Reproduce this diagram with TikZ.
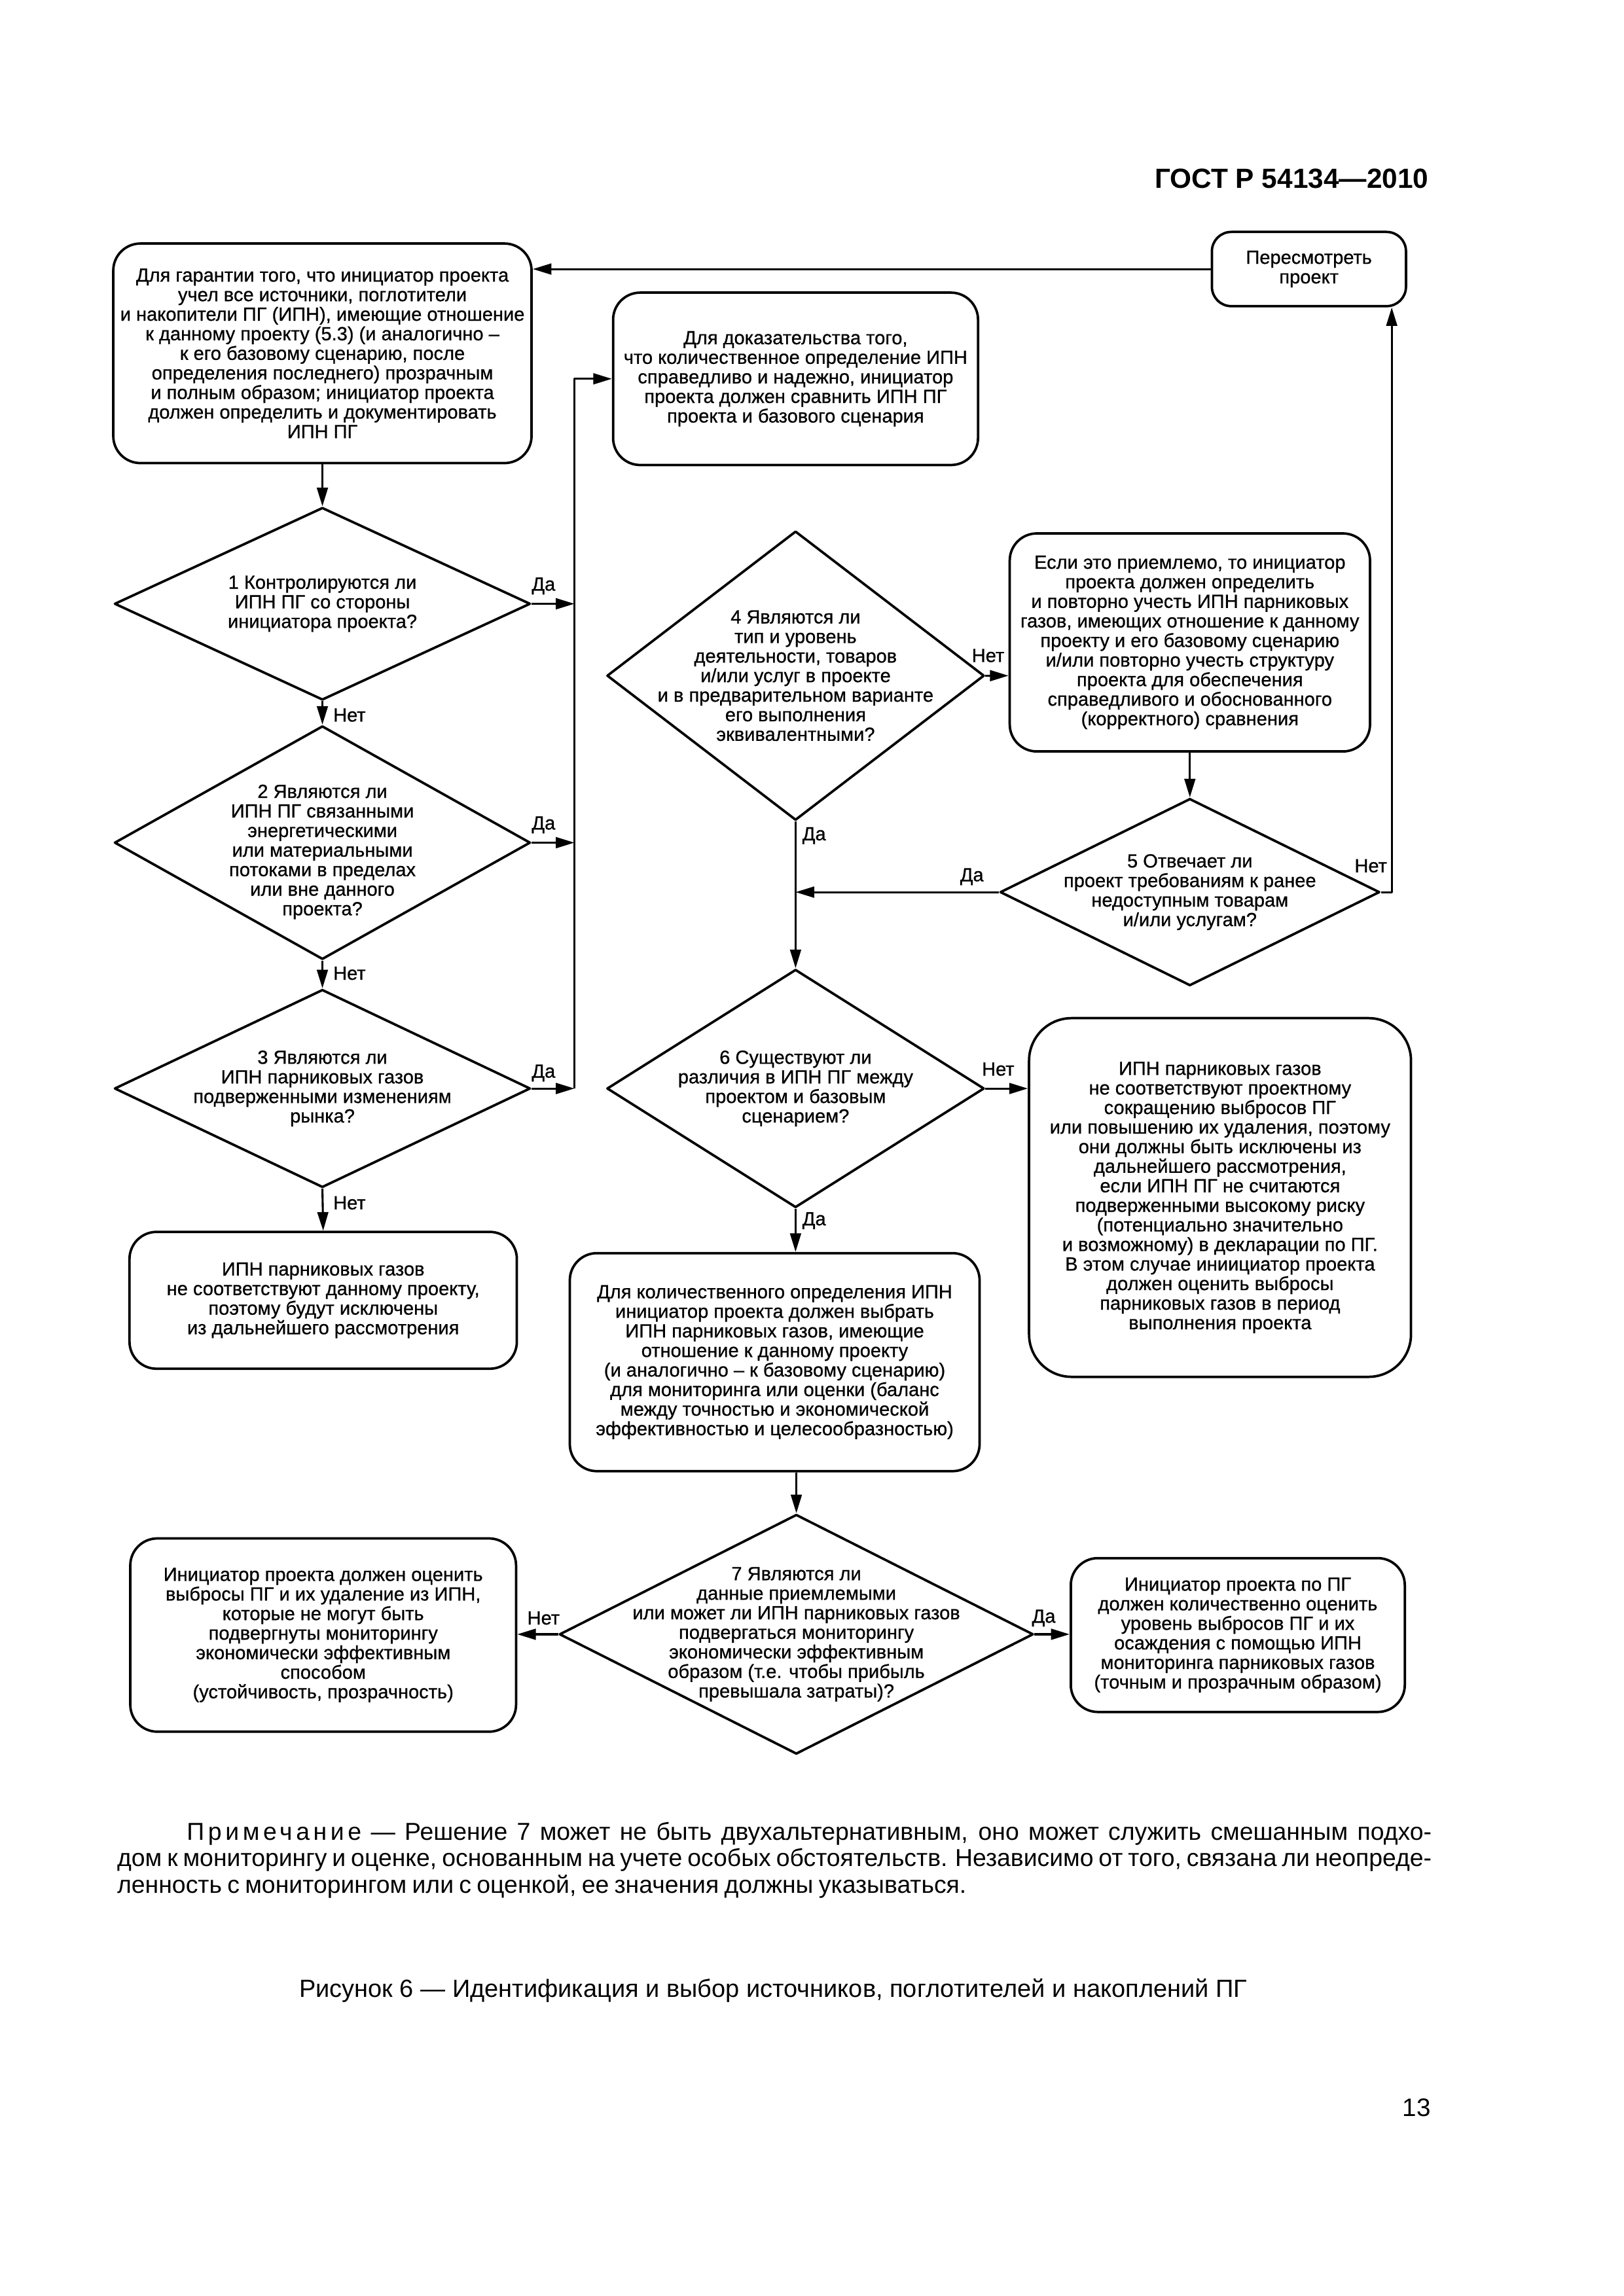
\documentclass[tikz,border=0pt]{standalone}
\usepackage{fontspec}
\setmainfont{Liberation Sans}
\newfontfamily\notefont{Liberation Sans}[WordSpace={0.8,1,1.5}]
\newfontfamily\diafont{Liberation Sans}[FakeBold=0.8]
\usetikzlibrary{arrows.meta,shapes.geometric}

\begin{document}
\begin{tikzpicture}[x=1mm, y=-1mm, line join=round, >={Triangle[length=2.4mm,width=1.4mm]},
  font=\diafont\fontsize{7}{7.2}\selectfont,
  box/.style={draw, line width=0.9pt, rounded corners=3.5mm, align=center, inner sep=0pt},
  dia/.style={draw, diamond, line width=0.9pt, inner sep=0pt},
  link/.style={line width=0.75pt}]
\useasboundingbox (0,0) rectangle (210,297);
\fill[white] (0,0) rectangle (210,297);

\node[anchor=east, font=\rmfamily\bfseries\fontsize{10.2}{12}\selectfont] (gost) at (186,23.1) {ГОСТ Р 54134—2010};

% left column
\node[box, minimum width=54.1mm, minimum height=28.4mm] (gar) at (41.7,45.7) {Для гарантии того, что инициатор проекта\\ учел все источники, поглотители\\ и накопители ПГ (ИПН), имеющие отношение\\ к данному проекту (5.3) (и аналогично –\\ к его базовому сценарию, после\\ определения последнего) прозрачным\\ и полным образом; инициатор проекта\\ должен определить и документировать\\ ИПН ПГ};
\node[dia, minimum width=53.8mm, minimum height=24.9mm] (q1) at (41.7,78.1) {};
\node[align=center] (q1t) at (q1) {1 Контролируются ли\\ ИПН ПГ со стороны\\ инициатора проекта?};
\node[dia, minimum width=53.8mm, minimum height=30.2mm] (q2) at (41.7,109.0) {};
\node[align=center] (q2t) at (41.7,110.2) {2 Являются ли\\ ИПН ПГ связанными\\ энергетическими\\ или материальными\\ потоками в пределах\\ или вне данного\\ проекта?};
\node[dia, minimum width=53.8mm, minimum height=25.6mm] (q3) at (41.7,140.8) {};
\node[align=center] (q3t) at (q3) {3 Являются ли\\ ИПН парниковых газов\\ подверженными изменениям\\ рынка?};
\node[box, minimum width=50.1mm, minimum height=17.7mm] (excl) at (41.8,168.2) {ИПН парниковых газов\\ не соответствуют данному проекту,\\ поэтому будут исключены\\ из дальнейшего рассмотрения};

% middle column
\node[box, minimum width=47.2mm, minimum height=22.3mm] (cmp) at (102.9,49.0) {Для доказательства того,\\ что количественное определение ИПН\\ справедливо и надежно, инициатор\\ проекта должен сравнить ИПН ПГ\\ проекта и базового сценария};
\node[dia, minimum width=48.8mm, minimum height=37.4mm] (q4) at (102.9,87.4) {};
\node[align=center] (q4t) at (q4) {4 Являются ли\\ тип и уровень\\ деятельности, товаров\\ и/или услуг в проекте\\ и в предварительном варианте\\ его выполнения\\ эквивалентными?};
\node[dia, minimum width=48.8mm, minimum height=30.8mm] (q6) at (102.9,140.8) {};
\node[align=center] (q6t) at (q6) {6 Существуют ли\\ различия в ИПН ПГ между\\ проектом и базовым\\ сценарием?};
\node[box, minimum width=53.0mm, minimum height=28.2mm] (mon) at (100.2,176.2) {Для количественного определения ИПН\\ инициатор проекта должен выбрать\\ ИПН парниковых газов, имеющие\\ отношение к данному проекту\\ (и аналогично – к базовому сценарию)\\ для мониторинга или оценки (баланс\\ между точностью и экономической\\ эффективностью и целесообразностью)};
\node[dia, minimum width=61.3mm, minimum height=31.0mm] (q7) at (103.0,211.4) {};
\node[align=center] (q7t) at (q7) {7 Являются ли\\ данные приемлемыми\\ или может ли ИПН парниковых газов\\ подвергаться мониторингу\\ экономически эффективным\\ образом (т.е. чтобы прибыль\\ превышала затраты)?};
\node[box, minimum width=49.9mm, minimum height=25.0mm] (est) at (41.8,211.5) {Инициатор проекта должен оценить\\ выбросы ПГ и их удаление из ИПН,\\ которые не могут быть\\ подвергнуты мониторингу\\ экономически эффективным\\ способом\\ (устойчивость, прозрачность)};

% right column
\node[box, rounded corners=2.5mm, minimum width=25.1mm, minimum height=9.6mm] (rev) at (169.3,34.8) {Пересмотреть\\ проект};
\node[box, minimum width=46.6mm, minimum height=28.2mm] (redo) at (153.9,83.1) {Если это приемлемо, то инициатор\\ проекта должен определить\\ и повторно учесть ИПН парниковых\\ газов, имеющих отношение к данному\\ проекту и его базовому сценарию\\ и/или повторно учесть структуру\\ проекта для обеспечения\\ справедливого и обоснованного\\ (корректного) сравнения};
\node[dia, minimum width=49.1mm, minimum height=24.2mm] (q5) at (153.9,115.4) {};
\node[align=center] (q5t) at (q5) {5 Отвечает ли\\ проект требованиям к ранее\\ недоступным товарам\\ и/или услугам?};
\node[box, rounded corners=5.5mm, minimum width=49.4mm, minimum height=46.4mm] (risk) at (157.8,154.9) {ИПН парниковых газов\\ не соответствуют проектному\\ сокращению выбросов ПГ\\ или повышению их удаления, поэтому\\ они должны быть исключены из\\ дальнейшего рассмотрения,\\ если ИПН ПГ не считаются\\ подверженными высокому риску\\ (потенциально значительно\\ и возможному) в декларации по ПГ.\\ В этом случае иниициатор проекта\\ должен оценить выбросы\\ парниковых газов в период\\ выполнения проекта};
\node[box, minimum width=43.2mm, minimum height=19.9mm] (qnt) at (160.1,211.5) {Инициатор проекта по ПГ\\ должен количественно оценить\\ уровень выбросов ПГ и их\\ осаждения с помощью ИПН\\ мониторинга парниковых газов\\ (точным и прозрачным образом)};

% connectors
\coordinate (bus) at (74.3,49.0);
\draw[link,->] (rev.west) -- (rev.west -| gar.east);
\draw[link,->] (gar.south) -- (q1.north);
\draw[link,->] (q1.south) -- (q2.north);
\draw[link,->] (q2.south) -- (q3.north);
\draw[link,->] (q3.south) -- (excl.north);
\draw[link,->] (q1.east) -- (q1.east -| bus);
\draw[link,->] (q2.east) -- (q2.east -| bus);
\draw[link,->] (q3.east) -- (q3.east -| bus);
\draw[link,->] (q3.east -| bus) -- (bus) -- (cmp.west);
\draw[link,->] (q4.east) -- (q4.east -| redo.west);
\draw[link,->] (redo.south) -- (q5.north);
\draw[link,->] (q5.west) -- (q5.west -| q4.south);
\draw[link,->] (q5.east) -| ([xshift=-2mm]rev.south east);
\draw[link,->] (q4.south) -- (q6.north);
\draw[link,->] (q6.east) -- (q6.east -| risk.west);
\draw[link,->] (q6.south) -- (q6.south |- mon.north);
\draw[link,->] (mon.south -| q7.north) -- (q7.north);
\draw[link,->] (q7.west) -- (q7.west -| est.east);
\draw[link,->] (q7.east) -- (q7.east -| qnt.west);

% labels
\node (y1) at (70.3,75.8) {Да};
\node (n1) at (45.2,92.5) {Нет};
\node (y2) at (70.3,106.7) {Да};
\node (n2) at (45.2,125.9) {Нет};
\node (y3) at (70.3,138.8) {Да};
\node (n3) at (45.2,155.6) {Нет};
\node (n4) at (127.8,84.8) {Нет};
\node (y4) at (105.3,108.1) {Да};
\node (y5) at (125.7,113.4) {Да};
\node (n5) at (177.3,112.0) {Нет};
\node (n6) at (129.1,138.3) {Нет};
\node (y6) at (105.3,157.9) {Да};
\node (n7) at (70.3,209.3) {Нет};
\node (y7) at (135.0,209.3) {Да};

% note, caption, page number
\node[anchor=north west, inner sep=0pt, text width=170mm, align=justify, font=\notefont\fontsize{9}{9.85}\selectfont] (note) at (15.1,235.6) {\hspace*{9mm}{\addfontfeature{LetterSpace=15}Примечание} — Решение 7 может не быть двухальтернативным, оно может служить смешанным подхо-\linebreak дом к мониторингу и оценке, основанным на учете особых обстоятельств. Независимо от того, связана ли неопреде-\linebreak ленность с мониторингом или с оценкой, ее значения должны указываться.};
\node[font=\rmfamily\fontsize{9.15}{11}\selectfont] (cap) at (100,257.5) {Рисунок 6 — Идентификация и выбор источников, поглотителей и накоплений ПГ};
\node[anchor=east, font=\rmfamily\fontsize{9.3}{11}\selectfont] (pg) at (186.3,272.6) {13};
\end{tikzpicture}
\end{document}
